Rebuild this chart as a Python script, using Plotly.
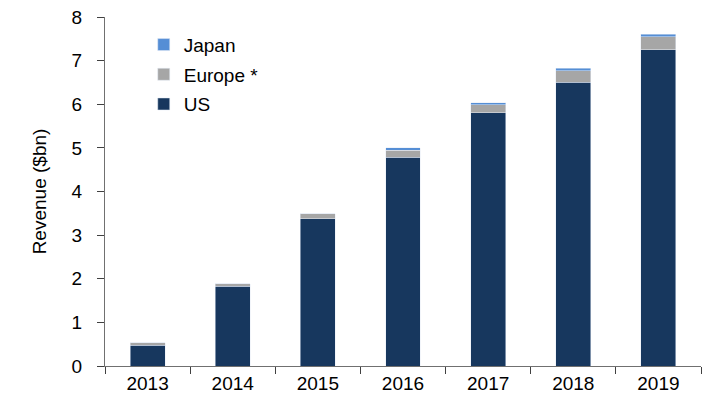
import plotly.graph_objects as go

years = ["2013", "2014", "2015", "2016", "2017", "2018", "2019"]
us = [0.48, 1.83, 3.37, 4.79, 5.80, 6.51, 7.25]
europe = [0.05, 0.05, 0.12, 0.16, 0.19, 0.26, 0.30]
japan = [0.0, 0.0, 0.0, 0.05, 0.04, 0.06, 0.06]

fig = go.Figure()
fig.add_trace(go.Bar(x=years, y=us, name="US", marker_color="#17375E",
                     legendgroup="us", legendrank=3))
fig.add_trace(go.Bar(x=years, y=europe, name="Europe *", marker_color="#A6A6A6",
                     legendgroup="eu", legendrank=2))
fig.add_trace(go.Bar(x=years, y=japan, name="Japan", marker_color="#558ED5",
                     legendgroup="jp", legendrank=1))

fig.update_layout(
    barmode="stack",
    bargap=0.59,
    width=703, height=401,
    margin=dict(l=105, r=2, t=17, b=35),
    plot_bgcolor="white", paper_bgcolor="white",
    font=dict(family="Liberation Sans, Arial, sans-serif", size=19, color="#000000"),
    legend=dict(x=0.065, y=0.975, xanchor="left", yanchor="top", traceorder="grouped",
                tracegroupgap=2, font=dict(size=19), bgcolor="rgba(0,0,0,0)"),
    xaxis=dict(showline=True, linecolor="#707070", linewidth=1, ticks="outside",
               tickson="boundaries", ticklen=7, tickcolor="#404040", showgrid=False,
               automargin=False),
    yaxis=dict(range=[0, 8], dtick=1, showline=True, linecolor="#707070", linewidth=1,
               ticks="outside", ticklen=7, tickcolor="#404040", showgrid=False, zeroline=False,
               automargin=False, ticklabelstandoff=11,
               title=dict(text="Revenue ($bn)", font=dict(size=19), standoff=19)),
)

fig.write_html(
    "out.html",
    config={"displayModeBar": False},
    post_script="document.body.style.margin='0';document.body.style.overflow='hidden';",
)
